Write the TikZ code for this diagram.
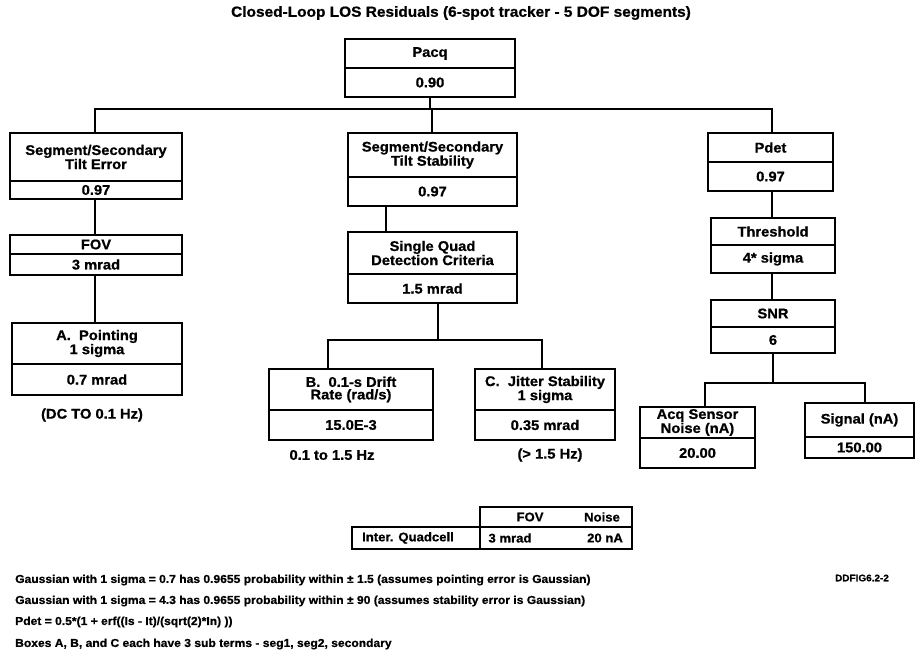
\documentclass[tikz,border=0pt]{standalone}
\usepackage{fontspec}
\setmainfont{Liberation Sans}[FakeStretch=1.05, BoldFeatures={FakeBold=0.8}]
\newcommand\boxfont{\fontsize{14}{12.5}\selectfont\bfseries}
\newcommand\titlefont{\fontsize{14.7}{16}\selectfont\bfseries}
\newcommand\tablefont{\fontsize{12.5}{14}\selectfont\bfseries}
\newcommand\notefont{\fontsize{11.5}{14}\selectfont\bfseries}
% two-part box: name, x-left, x-right, y-top, y-divider, y-bottom, header, value
\newcommand\twobox[8]{%
  \node[cell, minimum width={#3-#2}, minimum height={#5-#4}] (#1) at ({(#2+#3)/2},{(#4+#5)/2}) {#7};
  \node[cell, minimum width={#3-#2}, minimum height={#6-#5}] (#1v) at ({(#2+#3)/2},{(#5+#6)/2}) {#8};
}
\begin{document}
\begin{tikzpicture}[x=1pt,y=-1pt,
  cell/.style={draw, line width=1.5pt, inner sep=0pt, align=center, font=\boxfont},
  link/.style={line width=1.2pt},
  lbl/.style={inner sep=0pt, font=\boxfont},
  tcell/.style={draw, line width=1.3pt, inner sep=0pt},
  ttext/.style={inner sep=0pt, font=\tablefont},
  note/.style={inner sep=0pt, anchor=west, font=\notefont}]
\useasboundingbox (0,0) rectangle (922,663);

\node[inner sep=0pt, font=\titlefont] (title) at (461,13) {Closed-Loop LOS Residuals (6-spot tracker - 5 DOF segments)};

% top level
\twobox{pacq}{345}{515}{39}{68}{97}{Pacq}{0.90}

% left branch
\twobox{tilt}{10}{182}{133}{181}{199}{Segment/Secondary\\Tilt Error}{0.97}
\twobox{fov}{10}{182}{235}{254}{275}{FOV}{3 mrad}
\twobox{pa}{12}{182}{323}{364}{395}{A.\ \ Pointing\\1 sigma}{0.7 mrad}
\node[lbl] (pafreq) at (92,415) {(DC TO 0.1 Hz)};

% middle branch
\twobox{stab}{348}{517}{133}{177}{206}{Segment/Secondary\\Tilt Stability}{0.97}
\twobox{squad}{348}{517}{232}{274}{303}{Single Quad\\Detection Criteria}{1.5 mrad}
\twobox{pb}{269}{433}{369}{410}{440}{B.\ \ 0.1-s Drift\\Rate (rad/s)}{15.0E-3}
\twobox{pc}{475}{615}{369}{410}{440}{C.\ \ Jitter Stability\\1 sigma}{0.35 mrad}
\node[lbl] (pbfreq) at (332,455) {0.1 to 1.5 Hz};
\node[lbl] (pcfreq) at (550,455) {(> 1.5 Hz)};

% right branch
\twobox{pdet}{708}{833}{133}{162}{191}{Pdet}{0.97}
\twobox{thr}{711}{835}{218}{245}{273}{Threshold}{4* sigma}
\twobox{snr}{711}{835}{300}{327}{353}{SNR}{6}
\twobox{acq}{640}{755}{407}{438}{468}{Acq Sensor\\Noise (nA)}{20.00}
\twobox{sig}{805}{914}{403}{437}{458}{Signal (nA)}{150.00}

% connectors
\coordinate (busA) at (95,109);
\coordinate (busB) at (432,109);
\coordinate (busC) at (772,109);
\draw[link] (pacqv.south) -- (pacqv.south |- busA);
\draw[link] (busA |- tilt.north) -- (busA) -- (busC) -- (busC |- pdet.north);
\draw[link] (busB) -- (busB |- stab.north);

\draw[link] (busA |- tiltv.south) -- (busA |- fov.north);
\draw[link] (busA |- fovv.south) -- (busA |- pa.north);

\coordinate (mid1) at (386,0);
\draw[link] (mid1 |- stabv.south) -- (mid1 |- squad.north);
\coordinate (mid2) at (438,340);
\coordinate (midB) at (328,340);
\coordinate (midC) at (542,340);
\draw[link] (mid2 |- squadv.south) -- (mid2);
\draw[link] (midB |- pb.north) -- (midB) -- (midC) -- (midC |- pc.north);

\draw[link] (busC |- pdetv.south) -- (busC |- thr.north);
\draw[link] (busC |- thrv.south) -- (busC |- snr.north);
\coordinate (rt2) at (773,383);
\coordinate (rtA) at (705,383);
\coordinate (rtS) at (865,383);
\draw[link] (rt2 |- snrv.south) -- (rt2);
\draw[link] (rtA |- acq.north) -- (rtA) -- (rtS) -- (rtS |- sig.north);

% quadcell table
\node[tcell, minimum width=152, minimum height=20] (thead) at (556,517) {};
\node[tcell, minimum width=128, minimum height=22] (tlab) at (416,538) {};
\node[tcell, minimum width=152, minimum height=22] (tval) at (556,538) {};
\node[ttext] (hfov) at (530,517) {FOV};
\node[ttext] (hnoise) at (602,517) {Noise};
\node[ttext] (rlab) at (408,538) {Inter. Quadcell};
\node[ttext] (rfov) at (510,538) {3 mrad};
\node[ttext] (rnoise) at (605,538) {20 nA};

% notes
\node[note] (n1) at (15,580) {Gaussian with 1 sigma = 0.7 has 0.9655 probability within ± 1.5 (assumes pointing error is Gaussian)};
\node[note] (n2) at (15,601) {Gaussian with 1 sigma = 4.3 has 0.9655 probability within ± 90 (assumes stability error is Gaussian)};
\node[note] (n3) at (15,622) {Pdet = 0.5*(1 + erf((Is - It)/(sqrt(2)*In) ))};
\node[note] (n4) at (15,644) {Boxes A, B, and C each have 3 sub terms - seg1, seg2, secondary};
\node[inner sep=0pt, font=\fontsize{9.5}{11}\selectfont\bfseries] (fig) at (862,578) {DDFIG6.2-2};
\end{tikzpicture}
\end{document}
